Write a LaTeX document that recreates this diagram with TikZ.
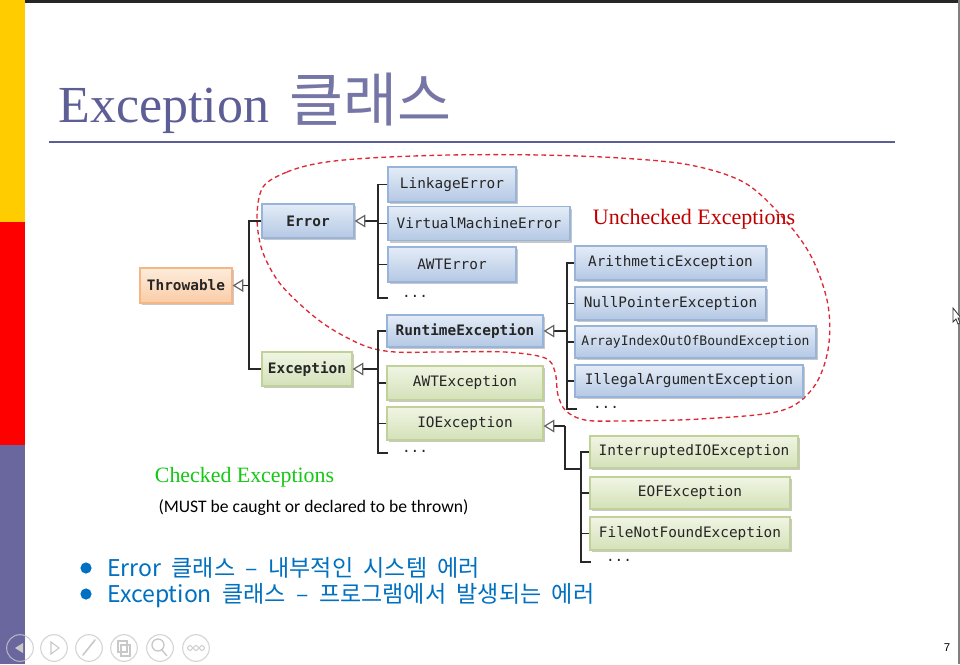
\documentclass[tikz,border=0pt]{standalone}
\usepackage{fontspec}
\setmainfont{Liberation Serif}
\newfontfamily\krfont{Noto Sans CJK KR}
\newfontfamily\bulletfont[WordSpace=2]{Noto Sans CJK KR}
\newfontfamily\codefont{DejaVu Sans Mono}
\newfontfamily\notefont{Carlito}
\newfontfamily\uifont{Liberation Sans}
\usetikzlibrary{arrows.meta,shadows}

\definecolor{titleslate}{RGB}{94,94,150}
\definecolor{barYellow}{RGB}{255,204,0}
\definecolor{barRed}{RGB}{255,0,0}
\definecolor{barSlate}{RGB}{106,103,158}
\definecolor{blueTop}{RGB}{228,236,247}
\definecolor{blueBot}{RGB}{180,200,228}
\definecolor{blueEdge}{RGB}{152,180,216}
\definecolor{greenTop}{RGB}{240,245,228}
\definecolor{greenBot}{RGB}{212,225,184}
\definecolor{greenEdge}{RGB}{192,210,152}
\definecolor{orangeTop}{RGB}{253,236,220}
\definecolor{orangeBot}{RGB}{250,204,166}
\definecolor{orangeEdge}{RGB}{246,182,132}
\definecolor{uncheckRed}{RGB}{192,0,0}
\definecolor{checkGreen}{RGB}{20,200,20}
\definecolor{bulletBlue}{RGB}{0,112,192}
\definecolor{loopRed}{RGB}{222,40,52}
\definecolor{linkDark}{RGB}{40,40,40}
\definecolor{tipGray}{RGB}{100,100,100}
\definecolor{toolGray}{RGB}{200,200,200}

\tikzset{
  cls/.style={rectangle, line width=0.9pt, inner sep=0pt, text=black!85,
    font=\codefont\fontsize{10.8}{12}\selectfont,
    drop shadow={shadow xshift=1.4pt, shadow yshift=-1.8pt, opacity=0.3, fill=black!70}},
  bluecls/.style={cls, draw=blueEdge, top color=blueTop, bottom color=blueBot},
  greencls/.style={cls, draw=greenEdge, top color=greenTop, bottom color=greenBot},
  orangecls/.style={cls, draw=orangeEdge, top color=orangeTop, bottom color=orangeBot},
  wh/.style 2 args={minimum width={#1*0.75pt}, minimum height={#2*0.75pt}},
  dots/.style={inner sep=0pt, font=\codefont\fontsize{10.8}{12}\selectfont, text=black!85},
  bus/.style={draw=linkDark, line width=1pt},
  inh/.style={draw=linkDark, line width=1pt,
    -{Triangle[open, length=8pt, width=9.5pt, line width=0.9pt, color=tipGray]}},
  bullettext/.style={anchor=base west, inner sep=0pt, text=bulletBlue,
    font=\bulletfont\fontsize{17.3}{19}\selectfont},
}

\begin{document}
\begin{tikzpicture}[x=0.75pt,y=-0.75pt]
  % slide frame
  \useasboundingbox (0,0) rectangle (960,664);
  \fill[white] (0,0) rectangle (960,664);
  \fill[black!85] (25,0) rectangle (960,2.5);
  \fill[gray] (958,0) rectangle (960,664);
  \fill[barYellow] (0,0) rectangle (25,222);
  \fill[barRed] (0,222) rectangle (25,445);
  \fill[barSlate] (0,445) rectangle (25,664);

  % title and rule
  \node[anchor=base west, inner sep=0pt, text=titleslate] (title) at (58,122)
    {\fontsize{39}{44}\selectfont Exception};
  \node[anchor=base west, inner sep=0pt, text=titleslate!85] (titlekr) at (289,121)
    {\krfont\fontsize{44}{48}\selectfont 클래스};
  \draw[titleslate, line width=1.5pt] (49,142) -- (895,142);

  % unchecked region
  \draw[loopRed, line width=1pt, dash pattern=on 3.5pt off 2.5pt]
    plot[smooth cycle, tension=0.55] coordinates {
      (263,187) (287,172) (320,163) (370,158) (450,155) (540,155) (620,158)
      (690,165) (745,183) (785,220) (812,258) (828,305) (828,350) (813,388)
      (780,411) (700,419) (620,421) (585,420) (566,411) (558,395) (555,372)
      (545,358) (505,352) (440,352) (395,352) (365,346) (330,328) (303,307)
      (278,281) (262,250) (257,217)};

  % class boxes
  \node[orangecls, wh={92}{35}, font=\codefont\bfseries\fontsize{10.8}{12}\selectfont] (thr) at (186,285.5) {Throwable};
  \node[bluecls, wh={92}{34}, font=\codefont\bfseries\fontsize{10.8}{12}\selectfont] (err) at (308,221) {Error};
  \node[bluecls, wh={128}{35}] (link) at (452,184.5) {LinkageError};
  \node[bluecls, wh={182}{34}] (vme) at (479,223.5) {VirtualMachineError};
  \node[bluecls, wh={128}{35}] (awterr) at (452,264.5) {AWTError};
  \node[dots] (edots) at (415,296) {...};

  \node[greencls, wh={90}{34}, font=\codefont\bfseries\fontsize{10.8}{12}\selectfont] (exc) at (307,369) {Exception};
  \node[bluecls, wh={156}{32}, font=\codefont\bfseries\fontsize{10.8}{12}\selectfont] (rte) at (465,331) {RuntimeException};
  \node[greencls, wh={156}{34}] (awtexc) at (465,383) {AWTException};
  \node[greencls, wh={156}{33}] (ioe) at (465,423.5) {IOException};
  \node[dots] (xdots) at (415,451) {...};

  \node[bluecls, wh={191}{34}] (arith) at (670.5,263) {ArithmeticException};
  \node[bluecls, wh={191}{33}] (npe) at (670.5,303.5) {NullPointerException};
  \node[bluecls, wh={241}{32}, font=\codefont\fontsize{9.8}{11}\selectfont] (aioobe) at (695.5,342) {ArrayIndexOutOfBoundException};
  \node[bluecls, wh={228}{32}] (iae) at (689,381) {IllegalArgumentException};
  \node[dots] (rdots) at (606,407) {...};

  \node[greencls, wh={208}{32}] (iioe) at (694,452) {InterruptedIOException};
  \node[greencls, wh={200}{32}] (eof) at (690,493) {EOFException};
  \node[greencls, wh={200}{33}] (fnf) at (690,533.5) {FileNotFoundException};
  \node[dots] (idots) at (619,560) {...};

  % Throwable hierarchy
  \coordinate (tb) at (249,0);
  \draw[bus] (err.west) -- (err.west -| tb) -- (exc.west -| tb) -- (exc.west);
  \draw[inh] (thr.east -| tb) -- (thr.east);

  % Error subclasses
  \coordinate (eb) at (378,298);
  \coordinate (eend) at (388,298);
  \draw[bus] (link.west) -| (eb) -- (eend);
  \draw[bus] (vme.west) -- (vme.west -| eb);
  \draw[bus] (awterr.west) -- (awterr.west -| eb);
  \draw[inh] (err.east -| eb) -- (err.east);

  % Exception subclasses
  \coordinate (xb) at (378,453);
  \coordinate (xend) at (388,453);
  \draw[bus] (rte.west) -| (xb) -- (xend);
  \draw[bus] (awtexc.west) -- (awtexc.west -| xb);
  \draw[bus] (ioe.west) -- (ioe.west -| xb);
  \draw[inh] (exc.east -| xb) -- (exc.east);

  % RuntimeException subclasses
  \coordinate (rb) at (567,409);
  \coordinate (rend) at (577,409);
  \draw[bus] (arith.west) -| (rb) -- (rend);
  \draw[bus] (npe.west) -- (npe.west -| rb);
  \draw[bus] (aioobe.west) -- (aioobe.west -| rb);
  \draw[bus] (iae.west) -- (iae.west -| rb);
  \draw[inh] (rte.east -| rb) -- (rte.east);

  % IOException subclasses
  \coordinate (ib) at (581,562);
  \coordinate (iend) at (591,562);
  \coordinate (ij) at (565,426);
  \coordinate (ik) at (581,469);
  \draw[bus] (iioe.west) -| (ib) -- (iend);
  \draw[bus] (eof.west) -- (eof.west -| ib);
  \draw[bus] (fnf.west) -- (fnf.west -| ib);
  \draw[bus] (ij) |- (ik);
  \draw[inh] (ij) -- (ij -| ioe.east);

  % region labels
  \node[text=uncheckRed, inner sep=0pt, font=\fontsize{16.5}{18}\selectfont] (unchecked) at (694,219) {Unchecked Exceptions};
  \node[text=checkGreen, inner sep=0pt, font=\fontsize{16.4}{18}\selectfont] (checked) at (244.5,477) {Checked Exceptions};
  \node[inner sep=0pt, font=\notefont\fontsize{13.2}{15}\selectfont] (must) at (313.5,508) {(MUST be caught or declared to be thrown)};

  % bullet list
  \fill[bulletBlue] (86,568) circle[radius=4.2pt];
  \fill[bulletBlue] (86,594) circle[radius=4.2pt];
  \node[bullettext] (b1) at (107,576) {Error 클래스 – 내부적인 시스템 에러};
  \node[bullettext] (b2) at (107,602) {Exception 클래스 – 프로그램에서 발생되는 에러};

  % slide show controls
  \foreach \x in {20,54,89,124,160,196}
    \draw[toolGray, line width=0.8pt, opacity=0.8] (\x,648) circle[radius=10pt];
  \fill[toolGray] (15,648) -- (23,643) -- (23,653) -- cycle;
  \draw[toolGray, line width=0.8pt] (51,642) -- (59,648) -- (51,654) -- cycle;
  \draw[toolGray, line width=1.2pt, line cap=round] (83,655) -- (95,640);
  \draw[toolGray, line width=0.8pt] (118,641) rectangle (127,652) (121,645) rectangle (130,656);
  \draw[toolGray, line width=1pt] (158,645) circle[radius=4.5pt] (162,650) -- (167,656);
  \foreach \x in {190,196,202} \draw[toolGray, line width=0.7pt] (\x,648) circle[radius=1.8pt];

  % page number and pointer
  \node[inner sep=0pt, font=\uifont\fontsize{8.5}{10}\selectfont] (pageno) at (947,648) {7};
  \draw[black!80, fill=white, line width=0.6pt] (953,308) -- (953,322) -- (956,319) -- (958,324) -- (960,323) -- (958,318) -- (961,318) -- cycle;
\end{tikzpicture}
\end{document}
